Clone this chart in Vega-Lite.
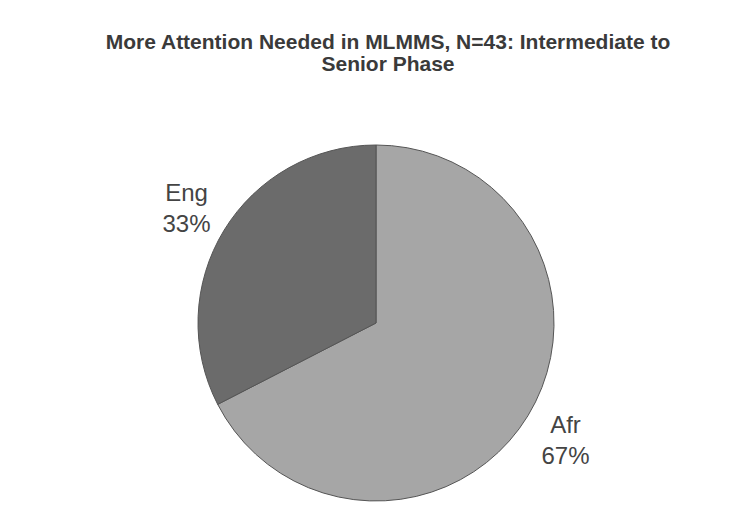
{
  "$schema": "https://vega.github.io/schema/vega-lite/v6.json",
  "width": 700,
  "height": 406,
  "autosize": {"type": "none"},
  "padding": {"left": 26, "top": 120, "right": 24, "bottom": 0},
  "background": "white",
  "config": {"view": {"stroke": null}},
  "title": {
    "text": ["More Attention Needed in MLMMS, N=43: Intermediate to", "Senior Phase"],
    "font": "Liberation Sans",
    "fontSize": 21,
    "fontWeight": "bold",
    "color": "#3a3a3a",
    "baseline": "top",
    "frame": "group",
    "anchor": "middle",
    "offset": 45,
    "dx": 12,
    "lineHeight": 22.5
  },
  "data": {
    "values": [
      {"lang": "Afr", "count": 29, "label": "Afr\n67%"},
      {"lang": "Eng", "count": 14, "label": "Eng\n33%"}
    ]
  },
  "encoding": {
    "theta": {"field": "count", "type": "quantitative", "stack": true},
    "order": {"field": "lang", "sort": "ascending"}
  },
  "layer": [
    {
      "mark": {"type": "arc", "outerRadius": 178, "stroke": "#555555", "strokeWidth": 1},
      "encoding": {
        "color": {
          "field": "lang",
          "type": "nominal",
          "scale": {"domain": ["Afr", "Eng"], "range": ["#a6a6a6", "#6b6b6b"]},
          "legend": null
        }
      }
    },
    {
      "mark": {
        "type": "text",
        "radius": 222,
        "dy": -13,
        "font": "Liberation Sans",
        "fontSize": 24,
        "color": "#444444",
        "lineBreak": "\n",
        "lineHeight": 31
      },
      "encoding": {"text": {"field": "label", "type": "nominal"}}
    }
  ]
}
